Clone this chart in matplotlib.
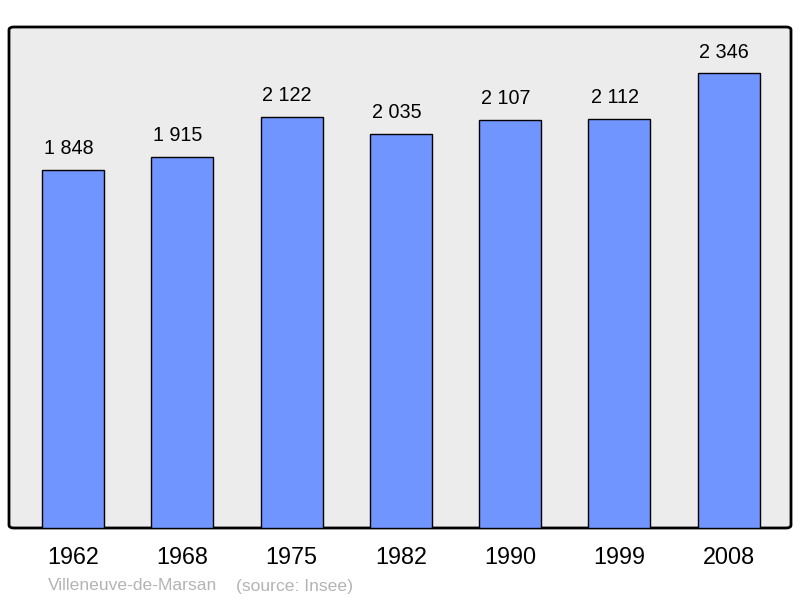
import matplotlib
matplotlib.use("Agg")
import matplotlib.pyplot as plt
from matplotlib.patches import FancyBboxPatch

# Données de population
annees = ["1962", "1968", "1975", "1982", "1990", "1999", "2008"]
population = [1848, 1915, 2122, 2035, 2107, 2112, 2346]
commune = "Villeneuve-de-Marsan"
source = "(source: Insee)"

plt.rcParams['font.family'] = ['Liberation Sans', 'DejaVu Sans']

fig = plt.figure(figsize=(8, 5.98), dpi=100)
ax = fig.add_axes([9 / 800, 70 / 598, 782 / 800, 501 / 598])
ax.set_xlim(-0.585, 6.57)
ax.set_ylim(0, 2585)
ax.axis('off')

# Cadre arrondi en arrière-plan
cadre = FancyBboxPatch((0, 0), 1, 1, boxstyle="round,pad=0,rounding_size=0.006",
                       transform=ax.transAxes, facecolor='#ececec',
                       edgecolor='black', linewidth=2, zorder=0, clip_on=False)
ax.add_patch(cadre)

x = range(len(annees))
ax.bar(x, population, width=0.567, color='#7095ff', edgecolor='black',
       linewidth=1, zorder=2)

# étiquettes de valeur, un peu décalées à gauche comme dans l'original
for i, v in zip(x, population):
    testo = f"{v:,}".replace(",", " ")
    ax.text(i - 0.04, v + 108, testo, ha='center', va='center', fontsize=14.2,
            color='black', zorder=3)

for i, a in zip(x, annees):
    ax.text(i, -150, a, ha='center', va='center', fontsize=16.8,
            color='black', clip_on=False)

fig.text(48 / 800, 1 - 586 / 598, commune, ha='left', va='center',
         fontsize=12.6, color='#b4b4b4')
fig.text(236 / 800, 1 - 586 / 598, source, ha='left', va='center',
         fontsize=12.6, color='#b4b4b4')

fig.savefig("out.png", dpi=100)
